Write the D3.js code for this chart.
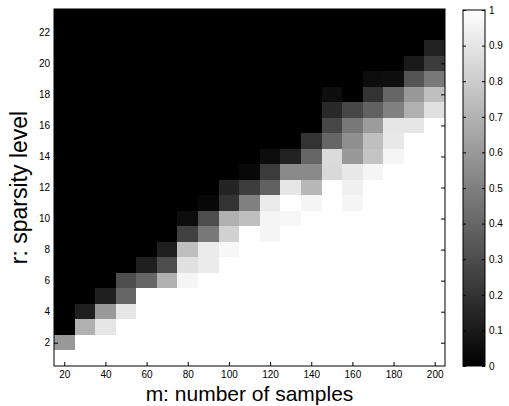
<!DOCTYPE html>
<html>
<head>
<meta charset="utf-8">
<script src="https://cdn.jsdelivr.net/npm/d3@7"></script>
<style>
  body { margin: 0; background: #fff; }
  svg { display: block; font-family: "Liberation Sans", Arial, sans-serif; }
  .axis path, .axis line { stroke: #000; }
  .axis text { font-size: 10px; fill: #000; }
</style>
</head>
<body>
<div id="chart"></div>
<script>
// m values (columns) and r values (rows)
var mValues = d3.range(20, 201, 10);
var rValues = d3.range(1, 24);
var xTicks = d3.range(20, 201, 20);
var yTicks = d3.range(2, 23, 2);

// recovery rate, one row per r (r = 1 .. 23), columns m = 20 .. 200
var rate = [
  [1, 1, 1, 1, 1, 1, 1, 1, 1, 1, 1, 1, 1, 1, 1, 1, 1, 1, 1],
  [0.6, 1, 1, 1, 1, 1, 1, 1, 1, 1, 1, 1, 1, 1, 1, 1, 1, 1, 1],
  [0, 0.69, 0.9, 1, 1, 1, 1, 1, 1, 1, 1, 1, 1, 1, 1, 1, 1, 1, 1],
  [0, 0.12, 0.6, 0.9, 1, 1, 1, 1, 1, 1, 1, 1, 1, 1, 1, 1, 1, 1, 1],
  [0, 0, 0.12, 0.4, 1, 1, 1, 1, 1, 1, 1, 1, 1, 1, 1, 1, 1, 1, 1],
  [0, 0, 0, 0.3, 0.4, 0.69, 0.96, 1, 1, 1, 1, 1, 1, 1, 1, 1, 1, 1, 1],
  [0, 0, 0, 0, 0.12, 0.3, 0.88, 0.92, 1, 1, 1, 1, 1, 1, 1, 1, 1, 1, 1],
  [0, 0, 0, 0, 0, 0.12, 0.75, 0.92, 0.97, 1, 1, 1, 1, 1, 1, 1, 1, 1, 1],
  [0, 0, 0, 0, 0, 0, 0.25, 0.47, 0.82, 1, 0.96, 1, 1, 1, 1, 1, 1, 1, 1],
  [0, 0, 0, 0, 0, 0, 0.05, 0.3, 0.69, 0.75, 0.96, 0.97, 1, 1, 1, 1, 1, 1, 1],
  [0, 0, 0, 0, 0, 0, 0, 0.03, 0.2, 0.5, 0.92, 1, 0.96, 1, 0.96, 1, 1, 1, 1],
  [0, 0, 0, 0, 0, 0, 0, 0, 0.14, 0.24, 0.38, 0.9, 0.72, 1, 0.94, 1, 1, 1, 1],
  [0, 0, 0, 0, 0, 0, 0, 0, 0, 0.03, 0.23, 0.54, 0.54, 0.85, 0.91, 0.96, 1, 1, 1],
  [0, 0, 0, 0, 0, 0, 0, 0, 0, 0, 0.05, 0.13, 0.4, 0.86, 0.6, 0.77, 0.96, 1, 1],
  [0, 0, 0, 0, 0, 0, 0, 0, 0, 0, 0, 0, 0.2, 0.4, 0.56, 0.75, 0.91, 1, 1],
  [0, 0, 0, 0, 0, 0, 0, 0, 0, 0, 0, 0, 0, 0.28, 0.47, 0.61, 0.9, 0.9, 1],
  [0, 0, 0, 0, 0, 0, 0, 0, 0, 0, 0, 0, 0, 0.16, 0.28, 0.38, 0.5, 0.69, 0.88],
  [0, 0, 0, 0, 0, 0, 0, 0, 0, 0, 0, 0, 0, 0.05, 0, 0.2, 0.4, 0.6, 0.75],
  [0, 0, 0, 0, 0, 0, 0, 0, 0, 0, 0, 0, 0, 0, 0, 0.05, 0.06, 0.33, 0.47],
  [0, 0, 0, 0, 0, 0, 0, 0, 0, 0, 0, 0, 0, 0, 0, 0, 0, 0.1, 0.23],
  [0, 0, 0, 0, 0, 0, 0, 0, 0, 0, 0, 0, 0, 0, 0, 0, 0, 0, 0.13],
  [0, 0, 0, 0, 0, 0, 0, 0, 0, 0, 0, 0, 0, 0, 0, 0, 0, 0, 0],
  [0, 0, 0, 0, 0, 0, 0, 0, 0, 0, 0, 0, 0, 0, 0, 0, 0, 0, 0]
];

window.onload = () => {
  var W = 509, H = 406;
  var x0 = 54, x1 = 445, y0 = 9, y1 = 366;

  var x = d3.scaleLinear().domain([15, 205]).range([x0, x1]);
  var y = d3.scaleLinear().domain([0.5, 23.5]).range([y1, y0]);
  var grey = d3.scaleLinear().domain([0, 1]).range(["#000", "#fff"]);

  var svg = d3.select("#chart").append("svg")
    .attr("width", W)
    .attr("height", H);

  // cells
  var cells = [];
  rValues.forEach(function(r, i) {
    mValues.forEach(function(m, j) {
      cells.push({ m: m, r: r, v: rate[i][j] });
    });
  });

  svg.append("g")
    .attr("shape-rendering", "crispEdges")
    .selectAll("rect")
    .data(cells)
    .enter().append("rect")
    .attr("x", d => Math.round(x(d.m - 5)))
    .attr("y", d => Math.round(y(d.r + 0.5)))
    .attr("width", d => Math.round(x(d.m + 5)) - Math.round(x(d.m - 5)))
    .attr("height", d => Math.round(y(d.r - 0.5)) - Math.round(y(d.r + 0.5)))
    .attr("fill", d => grey(d.v));

  // axes (ticks inside, box all round)
  svg.append("g")
    .attr("class", "axis")
    .attr("transform", "translate(0," + y1 + ")")
    .call(d3.axisBottom(x).tickValues(xTicks).tickSize(-4).tickSizeOuter(0).tickPadding(5));

  svg.append("g")
    .attr("class", "axis")
    .attr("transform", "translate(" + x0 + ",0)")
    .call(d3.axisLeft(y).tickValues(yTicks).tickSize(-4).tickSizeOuter(0).tickPadding(4));

  svg.append("g")
    .attr("class", "axis")
    .attr("transform", "translate(" + x1 + ",0)")
    .call(d3.axisRight(y).tickValues(yTicks).tickSize(-4).tickSizeOuter(0).tickFormat(""));

  svg.append("g")
    .attr("class", "axis")
    .attr("transform", "translate(0," + y0 + ")")
    .call(d3.axisTop(x).tickValues(xTicks).tickSize(-4).tickSizeOuter(0).tickFormat(""));

  svg.append("rect")
    .attr("x", x0).attr("y", y0)
    .attr("width", x1 - x0).attr("height", y1 - y0)
    .attr("fill", "none").attr("stroke", "#000");

  // axis titles
  svg.append("text")
    .attr("x", (x0 + x1) / 2)
    .attr("y", 401)
    .attr("text-anchor", "middle")
    .style("font-size", "21px")
    .text("m: number of samples");

  svg.append("text")
    .attr("transform", "translate(27," + ((y0 + y1) / 2) + ") rotate(-90)")
    .attr("text-anchor", "middle")
    .style("font-size", "23px")
    .text("r: sparsity level");

  // colorbar
  var cbLeft = 463, cbRight = 485;
  var c = d3.scaleLinear().domain([0, 1]).range([y1, y0 + 1]);

  var grad = svg.append("defs").append("linearGradient")
    .attr("id", "cbGrad")
    .attr("x1", 0).attr("y1", 1).attr("x2", 0).attr("y2", 0);
  grad.append("stop").attr("offset", 0).attr("stop-color", grey(0));
  grad.append("stop").attr("offset", 1).attr("stop-color", grey(1));

  svg.append("rect")
    .attr("x", cbLeft).attr("y", c(1))
    .attr("width", cbRight - cbLeft).attr("height", c(0) - c(1))
    .attr("fill", "url(#cbGrad)");

  svg.append("g")
    .attr("class", "axis")
    .attr("transform", "translate(" + cbRight + ",0)")
    .call(d3.axisRight(c).ticks(10).tickSize(-3).tickSizeOuter(0).tickPadding(4)
      .tickFormat(d3.format("~g")));

  svg.append("g")
    .attr("class", "axis")
    .attr("transform", "translate(" + cbLeft + ",0)")
    .call(d3.axisLeft(c).ticks(10).tickSize(-3).tickSizeOuter(0).tickFormat(""));

  svg.append("rect")
    .attr("x", cbLeft).attr("y", c(1))
    .attr("width", cbRight - cbLeft).attr("height", c(0) - c(1))
    .attr("fill", "none").attr("stroke", "#000");

  svg.selectAll(".axis .domain").remove();
};
</script>
</body>
</html>
